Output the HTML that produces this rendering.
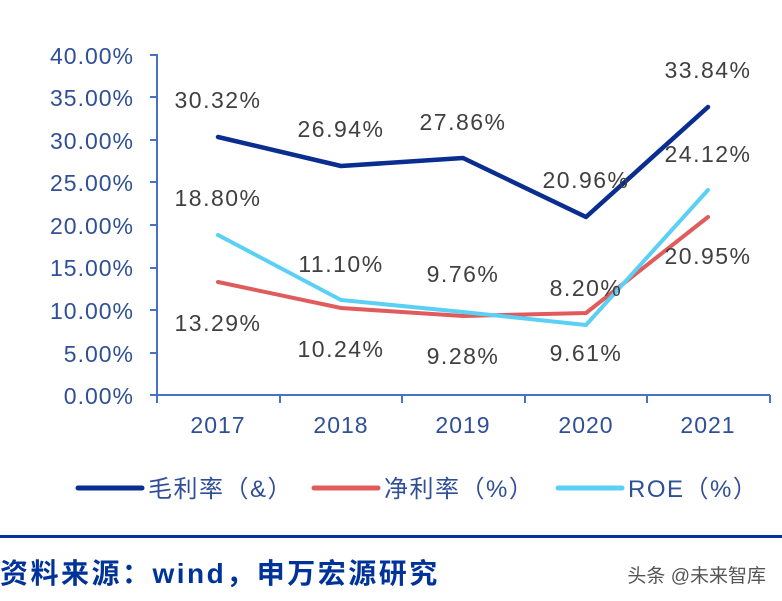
<!DOCTYPE html>
<html><head><meta charset="utf-8"><style>
html,body{margin:0;padding:0;background:#fff;width:782px;height:601px;overflow:hidden}
</style></head><body>
<svg width="782" height="601" xmlns="http://www.w3.org/2000/svg" style="position:absolute;left:0;top:0">
<g font-family="Liberation Sans, Noto Sans CJK SC, sans-serif" font-size="23" letter-spacing="1" fill="#2f4f96" text-anchor="end">
<text x="134" y="404">0.00%</text>
<text x="134" y="362">5.00%</text>
<text x="134" y="319">10.00%</text>
<text x="134" y="276">15.00%</text>
<text x="134" y="234">20.00%</text>
<text x="134" y="191">25.00%</text>
<text x="134" y="149">30.00%</text>
<text x="134" y="106">35.00%</text>
<text x="134" y="64">40.00%</text>
</g>
<g stroke="#4a72c4" stroke-width="2" fill="none">
<line x1="157" y1="54" x2="157" y2="396"/>
<line x1="150" y1="395" x2="770" y2="395"/>
<line x1="150" y1="55" x2="157" y2="55"/><line x1="150" y1="97" x2="157" y2="97"/><line x1="150" y1="140" x2="157" y2="140"/><line x1="150" y1="182" x2="157" y2="182"/><line x1="150" y1="225" x2="157" y2="225"/><line x1="150" y1="268" x2="157" y2="268"/><line x1="150" y1="310" x2="157" y2="310"/><line x1="150" y1="353" x2="157" y2="353"/>
<line x1="280" y1="395" x2="280" y2="403"/><line x1="402" y1="395" x2="402" y2="403"/><line x1="525" y1="395" x2="525" y2="403"/><line x1="647" y1="395" x2="647" y2="403"/><line x1="770" y1="395" x2="770" y2="403"/><line x1="157" y1="395" x2="157" y2="403"/>
</g>
<g font-family="Liberation Sans, sans-serif" font-size="23" letter-spacing="1" fill="#2f4f96" text-anchor="middle">
<text x="218" y="433">2017</text><text x="341" y="433">2018</text><text x="463" y="433">2019</text><text x="586" y="433">2020</text><text x="708" y="433">2021</text>
</g>
<g fill="none" stroke-linejoin="round" stroke-linecap="round">
<polyline stroke="#e05c5c" stroke-width="4" points="218,282 341,308 463,316 586,313 708,217"/>
<polyline stroke="#5bd0f5" stroke-width="4" points="218,235 341,300 463,312 586,325 708,190"/>
<polyline stroke="#0a2e8f" stroke-width="4.5" points="218,137 341,166 463,158 586,217 708,107"/>
</g>
<g font-family="Liberation Sans, sans-serif" font-size="23" letter-spacing="1.5" fill="#404040" text-anchor="middle">
<text x="218" y="108">30.32%</text><text x="341" y="137">26.94%</text><text x="463" y="130">27.86%</text><text x="586" y="188">20.96%</text><text x="708" y="78">33.84%</text>
<text x="218" y="206">18.80%</text><text x="341" y="272">11.10%</text><text x="463" y="282">9.76%</text><text x="586" y="296">8.20%</text><text x="708" y="162">24.12%</text>
<text x="218" y="331">13.29%</text><text x="341" y="357">10.24%</text><text x="463" y="364">9.28%</text><text x="586" y="361">9.61%</text><text x="708" y="264">20.95%</text>
</g>
<g stroke-width="5" stroke-linecap="round">
<line x1="78" y1="488" x2="142" y2="488" stroke="#0a2e8f"/>
<line x1="314" y1="488" x2="378" y2="488" stroke="#e05c5c"/>
<line x1="558" y1="488" x2="622" y2="488" stroke="#5bd0f5"/>
</g>
<g font-family="Liberation Sans, Noto Sans CJK SC, sans-serif" font-size="24" letter-spacing="1.5" fill="#2f4f96">
<text x="148" y="497">毛利率（&amp;）</text>
<text x="384" y="497">净利率（%）</text>
<text x="628" y="497">ROE（%）</text>
</g>
<rect x="0" y="535" width="782" height="3" fill="#003399"/>
<text x="0" y="583" font-family="Liberation Sans, Noto Sans CJK SC, sans-serif" font-size="28" letter-spacing="2.5" font-weight="bold" fill="#003399">资料来源：wind，申万宏源研究</text>
<text x="766" y="582" text-anchor="end" font-family="Liberation Sans, Noto Sans CJK SC, sans-serif" font-size="19" fill="#555">头条 @未来智库</text>
</svg>
</body></html>
